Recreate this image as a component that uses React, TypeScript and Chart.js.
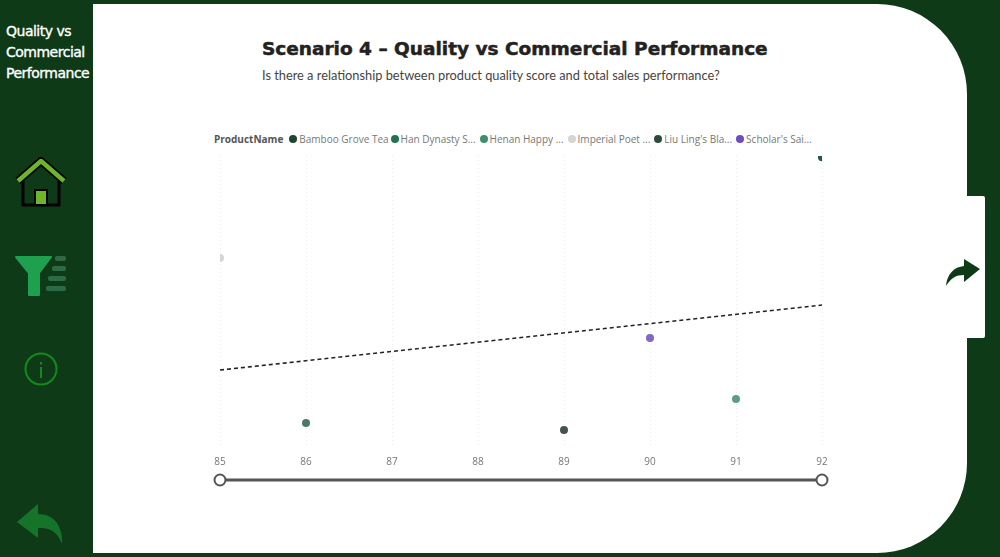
import { useEffect, useRef } from 'react';
import { Chart, registerables, type Plugin } from 'chart.js';

Chart.register(...registerables);

const GREEN = '#0f3a17';

const productNames = ['Bamboo Grove Tea', 'Han Dynasty S...', 'Henan Happy ...', 'Imperial Poet ...', "Liu Ling's Bla...", "Scholar's Sai..."];
const productColors = ['#1c4534', '#21734f', '#3b8f6c', '#d6d6d0', '#2c4a3e', '#6a4cc4'];
const pointColors = ['#24564a', '#4c7a68', '#5a9e85', '#d6d6d0', '#46544e', '#8465c9'];
const qualityScores = [92, 86, 91, 85, 89, 90];
const totalSales = [99.6, 7.9, 16.2, 64.8, 5.5, 37.2];
const trendX = [85, 92];
const trendY = [26.2, 48.6];
const xTicks = ['85', '86', '87', '88', '89', '90', '91', '92'];

const sliderPlugin: Plugin<'scatter'> = {
  id: 'rangeSlider',
  afterDraw(chart) {
    const { ctx, scales, chartArea } = chart;
    const left = scales['x'].getPixelForValue(85);
    const right = scales['x'].getPixelForValue(92);
    const y = chartArea.bottom + 34;
    ctx.save();
    ctx.strokeStyle = '#555555';
    ctx.lineWidth = 3;
    ctx.beginPath();
    ctx.moveTo(left, y);
    ctx.lineTo(right, y);
    ctx.stroke();
    ctx.lineWidth = 2;
    ctx.fillStyle = '#ffffff';
    for (const x of [left, right]) {
      ctx.beginPath();
      ctx.arc(x, y, 5.5, 0, Math.PI * 2);
      ctx.fill();
      ctx.stroke();
    }
    ctx.restore();
  },
};

function ScatterChart() {
  const canvasRef = useRef<HTMLCanvasElement>(null);

  useEffect(() => {
    if (!canvasRef.current) return;
    const chart = new Chart(canvasRef.current, {
      type: 'scatter',
      data: {
        datasets: [
          ...productNames.map((name, i) => ({
            label: name,
            data: [{ x: qualityScores[i], y: totalSales[i] }],
            backgroundColor: pointColors[i],
            borderWidth: 0,
            pointRadius: 4,
          })),
          {
            label: 'Trend',
            data: trendX.map((x, i) => ({ x, y: trendY[i] })),
            showLine: true,
            borderColor: '#222222',
            borderWidth: 1.6,
            borderDash: [4, 3],
            pointRadius: 0,
          },
        ],
      },
      options: {
        responsive: false,
        animation: false,
        layout: { padding: { left: 20, right: 20, top: 6, bottom: 62 } },
        plugins: { legend: { display: false }, tooltip: { enabled: false } },
        scales: {
          x: {
            type: 'linear',
            min: 85,
            max: 92,
            grid: { color: '#ececec', lineWidth: 1, drawTicks: false },
            border: { display: false, dash: [1, 3] },
            ticks: {
              stepSize: 1,
              color: '#777777',
              padding: 10,
              font: { family: "'Open Sans'", size: 10 },
              callback: (v) => xTicks[Number(v) - 85],
              maxRotation: 0,
            },
          },
          y: { min: 0, max: 100, display: false },
        },
      },
      plugins: [sliderPlugin],
    });
    return () => chart.destroy();
  }, []);

  return <canvas ref={canvasRef} width={642} height={390} style={{ position: 'absolute', left: 200, top: 150 }} />;
}

export default function App() {
  return (
    <div style={{ position: 'fixed', inset: 0, width: 1000, height: 557, background: GREEN, overflow: 'hidden', fontFamily: "'Open Sans', sans-serif" }}>
      <div style={{ position: 'absolute', left: 93, top: 4, width: 874, height: 549, background: '#fff', borderTopRightRadius: 90, borderBottomRightRadius: 90 }} />
      <div style={{ position: 'absolute', left: 960, top: 196, width: 25, height: 142, background: '#fff', borderRadius: 2 }} />

      <div style={{ position: 'absolute', left: 6, top: 21, color: '#fff', fontFamily: "'DejaVu Sans'", fontSize: 14, lineHeight: '21px', letterSpacing: -0.5, WebkitTextStroke: '0.35px #fff', whiteSpace: 'nowrap' }}>
        Quality vs<br />Commercial<br />Performance
      </div>

      <div style={{ position: 'absolute', left: 262, top: 37, color: '#222', fontFamily: "'DejaVu Sans'", fontWeight: 700, fontSize: 18.5, lineHeight: '24px', whiteSpace: 'nowrap', WebkitTextStroke: '0.5px #222' }}>
        Scenario 4 – Quality vs Commercial Performance
      </div>
      <div style={{ position: 'absolute', left: 262, top: 66, color: '#444', fontFamily: 'Lato', fontSize: 12.8, lineHeight: '18px', whiteSpace: 'nowrap' }}>
        Is there a relationship between product quality score and total sales performance?
      </div>

      <div style={{ position: 'absolute', left: 214, top: 131, height: 16, display: 'flex', alignItems: 'center', fontSize: 10, whiteSpace: 'nowrap', color: '#777' }}>
        <b style={{ color: '#555', marginRight: 6 }}>ProductName</b>
        {productNames.map((name, i) => (
          <span key={name} style={{ display: 'flex', alignItems: 'center', marginRight: i === 0 ? 2 : 4 }}>
            <i style={{ width: 8, height: 8, borderRadius: 4, background: productColors[i], marginRight: 2, flexShrink: 0 }} />
            {name}
          </span>
        ))}
      </div>

      <ScatterChart />

      {/* home */}
      <svg style={{ position: 'absolute', left: 14, top: 156 }} width="54" height="54" viewBox="0 0 54 54">
        <path d="M9 24V49H45V24" fill="none" stroke="#000" strokeWidth="3" strokeLinejoin="round" />
        <rect x="21" y="34" width="12" height="15" fill="#6cb52d" stroke="#000" strokeWidth="2" />
        <path d="M4 25L27 5L50 25" fill="none" stroke="#000" strokeWidth="8" strokeLinejoin="round" />
        <path d="M4 25L27 5L50 25" fill="none" stroke="#6cb52d" strokeWidth="4.5" strokeLinejoin="round" />
      </svg>
      {/* filter */}
      <svg style={{ position: 'absolute', left: 14, top: 254 }} width="54" height="44" viewBox="0 0 54 44">
        <path d="M2 3H37L25 19V41H15V19Z" fill="#1fa04f" stroke="#1fa04f" strokeWidth="2" strokeLinejoin="round" />
        <rect x="41" y="2" width="11" height="5" rx="2" fill="#2c6b45" />
        <rect x="38" y="12" width="14" height="5" rx="2" fill="#2c6b45" />
        <rect x="34" y="22" width="18" height="5" rx="2" fill="#2c6b45" />
        <rect x="32" y="32" width="20" height="5" rx="2" fill="#2c6b45" />
      </svg>
      {/* info */}
      <svg style={{ position: 'absolute', left: 23, top: 352 }} width="36" height="36" viewBox="0 0 36 36">
        <circle cx="18" cy="17" r="15.5" fill="none" stroke="#138a1e" strokeWidth="2" />
        <rect x="17" y="15" width="2" height="11" fill="#138a1e" />
        <rect x="17" y="10" width="2" height="2.5" fill="#138a1e" />
      </svg>
      {/* back arrow */}
      <svg style={{ position: 'absolute', left: 16, top: 502 }} width="48" height="44" viewBox="0 0 48 44">
        <path d="M1 20L22 2V12C38 12 47 24 46 42C42 30 34 25 22 26V36Z" fill="#15742a" />
      </svg>
      {/* forward arrow */}
      <svg style={{ position: 'absolute', left: 945, top: 258 }} width="36" height="30" viewBox="0 0 36 30">
        <path d="M35 11L19 1V8C9 9 2 16 1 28C6 20 11 17 19 17V24Z" fill="#0f3a17" />
      </svg>
    </div>
  );
}
